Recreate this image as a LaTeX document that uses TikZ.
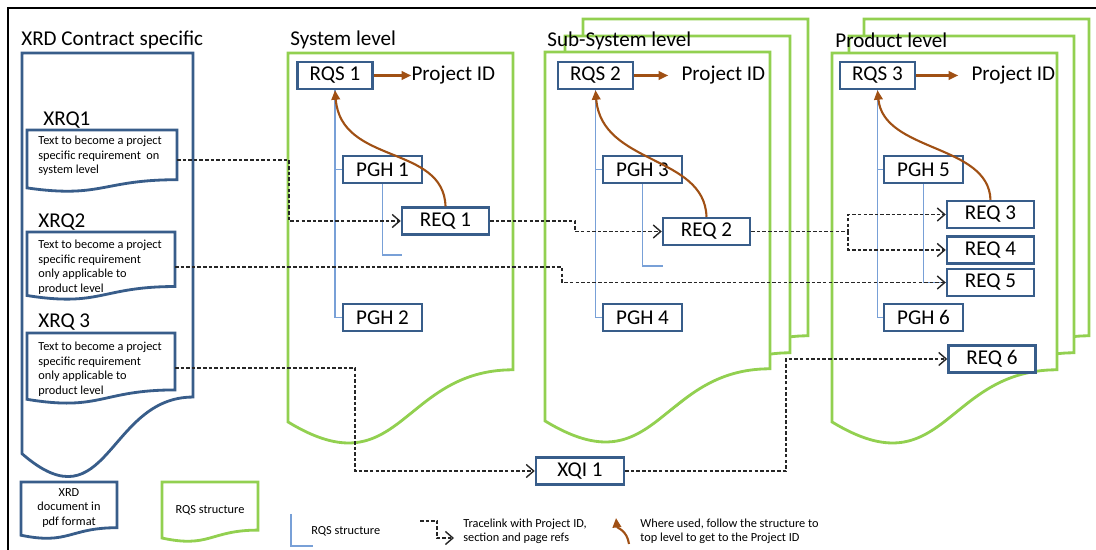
\documentclass[tikz,border=0pt]{standalone}
\usepackage{fontspec}
\setmainfont{Carlito}
\usetikzlibrary{arrows.meta, positioning}

\definecolor{boxblue}{RGB}{56,93,138}
\definecolor{rqsgreen}{RGB}{146,208,80}
\definecolor{linkblue}{RGB}{120,160,215}
\definecolor{idbrown}{RGB}{160,80,20}

% document outline: left, top, width, height
\newcommand{\docshape}[5][]{%
  \draw[#1] (#2,#3) -- ({#2+#4},#3) -- ({#2+#4},{#3+0.802*#5})
    .. controls ({#2+0.5*#4},{#3+0.802*#5}) and ({#2+0.5*#4},{#3+1.1075*#5})
    .. (#2,{#3+0.934*#5}) -- cycle;}

\begin{document}
\begin{tikzpicture}[
    x=0.02cm, y=-0.02cm,
    bx/.style={rectangle, draw=boxblue, line width=1.4pt, fill=white, minimum height=0.54cm,
               inner sep=0pt, text centered, font=\fontsize{12}{14}\selectfont},
    rqsbox/.style={bx, minimum width=1.5cm},
    pghbox/.style={bx, minimum width=1.58cm},
    reqbox/.style={bx, minimum width=1.74cm},
    lvltitle/.style={font=\fontsize{12}{14}\selectfont, inner sep=0pt, anchor=west},
    idtext/.style={font=\fontsize{12}{14}\selectfont, inner sep=0pt},
    smalltext/.style={font=\fontsize{7}{8.2}\selectfont, inner sep=0pt, align=left},
    xrddoc/.style={draw=boxblue, line width=1.6pt, fill=white},
    rqsdoc/.style={draw=rqsgreen, line width=1.6pt, fill=white},
    rqsline/.style={draw=linkblue, line width=0.7pt},
    tracelink/.style={-{Straight Barb[length=1.5mm, width=2.6mm]}, dash pattern=on 2pt off 1.2pt,
                      line width=0.8pt, draw=black!85},
    toid/.style={-{Triangle[length=1.9mm, width=1.7mm]}, line width=1.2pt, draw=idbrown},
]
\useasboundingbox (0,0) rectangle (1096,550);

% Frame
\draw[line width=1.1pt] (8,550) -- (8,8) -- (1096,8);

% XRD document
\docshape[xrddoc]{22}{53}{171}{429}
\docshape[xrddoc]{27}{130}{150}{62}
\docshape[xrddoc]{27}{232}{148}{68}
\docshape[xrddoc]{27}{333}{148}{71}

% RQS structures
\docshape[rqsdoc]{288}{53}{225}{395}
\docshape[rqsdoc]{583}{19}{225}{395}
\docshape[rqsdoc]{565}{36}{225}{395}
\docshape[rqsdoc]{545}{52}{225}{395}
\docshape[rqsdoc]{864}{19}{225}{395}
\docshape[rqsdoc]{849}{36}{225}{395}
\docshape[rqsdoc]{832}{53}{225}{395}

% Legend documents
\docshape[xrddoc]{21}{482}{96}{57}
\docshape[rqsdoc]{162}{482}{96}{60}

% Titles
\node[lvltitle] (xrdtitle) at (21,40) {XRD Contract specific};
\node[lvltitle] (systitle) at (290,40) {System level};
\node[lvltitle] (subtitle) at (547,41) {Sub-System level};
\node[lvltitle] (prodtitle) at (835,40) {Product level};

% XRD requirements
\node[lvltitle] (xrq1lbl) at (43,120) {XRQ1};
\node[lvltitle] (xrq2lbl) at (38,222) {XRQ2};
\node[lvltitle] (xrq3lbl) at (38,322) {XRQ 3};
\node[smalltext, anchor=north west] (xrq1) at (38,136) {Text to become a project\\specific requirement~ on\\system level};
\node[smalltext, anchor=north west] (xrq2) at (38,240) {Text to become a project\\specific requirement\\only applicable to\\product level};
\node[smalltext, anchor=north west] (xrq3) at (38,342) {Text to become a project\\specific requirement\\only applicable to\\product level};
\coordinate (xrq1out) at (177,160);
\coordinate (xrq2out) at (175,267);
\coordinate (xrq3out) at (175,368);

% RQS structure lines
\coordinate (slot1) at (402,255);
\coordinate (slot2) at (663,266);
\draw[rqsline] (335,89) |- (382.5,317.5);
\draw[rqsline] (335,169.5) -- (343,169.5);
\draw[rqsline] (382.5,183) |- (slot1);
\draw[rqsline] (595.5,89) |- (642.5,317.5);
\draw[rqsline] (595.5,169.5) -- (603,169.5);
\draw[rqsline] (642.5,183) |- (slot2);
\draw[rqsline] (877.5,89) |- (923.5,317.5);
\draw[rqsline] (877.5,169.5) -- (884,169.5);
\draw[rqsline] (923.5,183) |- (947,282.5);

% System level
\node[rqsbox] (rqs1) at (335,75.5) {RQS 1};
\node[pghbox] (pgh1) at (382.5,169.5) {PGH 1};
\node[reqbox] (req1) at (445.5,221) {REQ 1};
\node[pghbox] (pgh2) at (382.5,317.5) {PGH 2};
\node[idtext, right=0.75cm of rqs1] (pid1) {Project ID};

% Sub-System level
\node[rqsbox] (rqs2) at (595.5,75.5) {RQS 2};
\node[pghbox] (pgh3) at (642.5,169.5) {PGH 3};
\node[reqbox] (req2) at (706.5,231.5) {REQ 2};
\node[pghbox] (pgh4) at (642.5,317.5) {PGH 4};
\node[idtext, right=0.94cm of rqs2] (pid2) {Project ID};

% Product level
\node[rqsbox] (rqs3) at (877.5,75.5) {RQS 3};
\node[pghbox] (pgh5) at (923.5,169.5) {PGH 5};
\node[reqbox] (req3) at (990.5,214.5) {REQ 3};
\node[reqbox] (req4) at (990.5,250) {REQ 4};
\node[reqbox] (req5) at (990.5,282.5) {REQ 5};
\node[pghbox] (pgh6) at (923.5,317.5) {PGH 6};
\node[reqbox] (req6) at (992,359) {REQ 6};
\node[idtext, right=1.1cm of rqs3] (pid3) {Project ID};

\node[bx, minimum width=1.76cm] (xqi1) at (580,471) {XQI 1};

% Project ID arrows
\draw[toid] (rqs1) -- (pid1);
\draw[toid, shorten >=0.26cm] (rqs2) -- (pid2);
\draw[toid, shorten >=0.26cm] (rqs3) -- (pid3);
\draw[toid] (req1.north) .. controls +(-2,-62) and +(6,75) .. (rqs1.south);
\draw[toid] (req2.north) .. controls +(-2,-62) and +(6,75) .. (rqs2.south);
\draw[toid] (req3.north) .. controls +(-2,-56) and +(6,62) .. (rqs3.south);

% Tracelinks
\coordinate (split2) at (848,231.5);
\draw[tracelink] (xrq1out) -| (289,221) -- (req1.west);
\draw[tracelink] (req1.east) -| (575,231.5) -- (req2.west);
\draw[tracelink] (req2.east) -- (split2) |- (req3.west);
\draw[tracelink] (split2) |- (req4.west);
\draw[tracelink] (xrq2out) -| (562,282.5) -- (req5.west);
\draw[tracelink] (xrq3out) -| (355,471) -- (xqi1.west);
\draw[tracelink] (xqi1.east) -| (786,359) -- (req6.west);

% Legend
\node[smalltext, align=center] (lgxrd) at (69,508) {XRD\\document in\\pdf format};
\node[smalltext] (lgrqs) at (210,510) {RQS structure};
\coordinate (lgl1) at (291,514);
\coordinate (lgl2) at (313,546);
\draw[rqsline] (lgl1) |- (lgl2);
\node[smalltext, anchor=west] (lgline) at (311,531) {RQS structure};
\coordinate (lgt1) at (420,521);
\coordinate (lgt2) at (454,538);
\draw[tracelink] (lgt1) -| (437,538) -- (lgt2);
\node[smalltext, anchor=west] (lgtrace) at (463,531) {Tracelink with Project ID,\\section and page refs};
\coordinate (lgb1) at (629,544);
\coordinate (lgb2) at (616,518);
\draw[toid] (lgb1) .. controls +(-2,-14) and +(1,10) .. (lgb2);
\node[smalltext, anchor=west] (lgid) at (640,531) {Where used, follow the structure to\\top level to get to the Project ID};

\end{tikzpicture}
\end{document}
